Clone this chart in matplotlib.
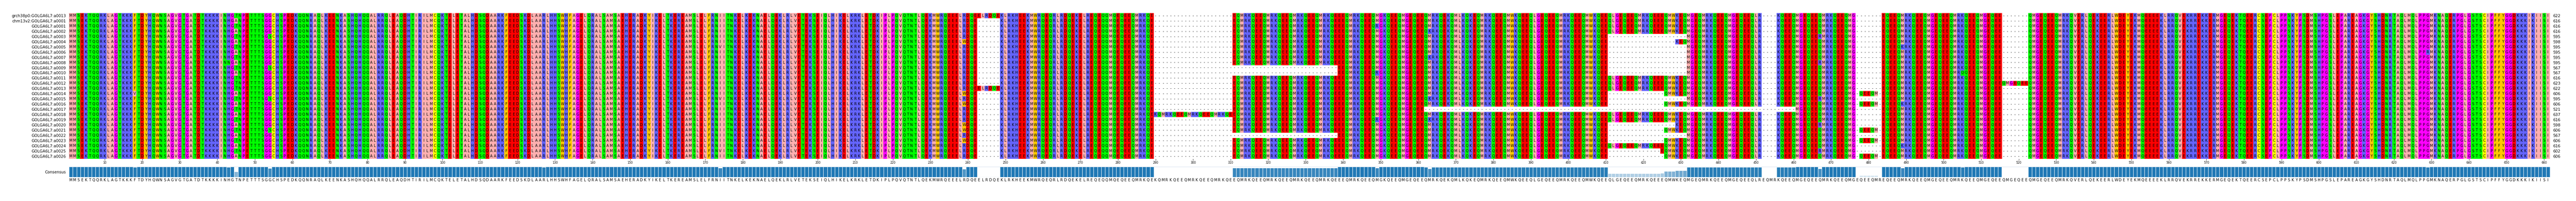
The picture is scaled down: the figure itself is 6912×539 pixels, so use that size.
import numpy as np
import matplotlib
matplotlib.use("Agg")
import matplotlib.pyplot as plt
from matplotlib.colors import to_rgb

# ---------------- data ----------------
row_names = ["grch38p0:GOLGA6L7:a0013", "chm13v2:GOLGA6L7:a0001"] + \
            ["GOLGA6L7:a%04d" % i for i in range(1, 27)]
row_lengths = [622, 616, 616, 616, 595, 598, 595, 595, 595, 595, 567, 567, 616, 623,
               622, 606, 595, 606, 521, 637, 616, 598, 606, 567, 606, 616, 602, 606]

consensus_segments = [
    "MMSEKTQQRKLAGTKKKFTDYHQWNSAGVGTGATDTKKKKINHGTNPETTTSGGCHSPEDKQQNRAQLKEENKASHQHQQAL",
    "RRQLEAQDHTIRILMCQKTELETALHDSQDAARKFEEDSKDLAARLHHSWHFAGELQRALSAMSAEHERADKYIKELTKERE",
    "AMSLELFRNIITNKELKEKNAELQEKLRLVETEKSEIQLHIKELKRKLETDKIPLPQVQTNTLQEKMWRQEEELRDQE",
    "ELRDQE",
    "KLRKHEEKMWRQEQRLRDQEKELREQEQQMQEQEEQMRKQE",
    "KQMRKQEEQMRKQEEQMRKQE",
    "EQMRKQEEQMRKQEEQ",
    "MRKQEEQMRKQEEEQMRKQEEQMGKQEEQMGEQEEQMRKQEKQMLKQKEQMRKQEEQMWKQEEQLGEQ",
    "EEQMRKQEEQMWKQEEQLGEQEEQMRKQEEEQMWK",
    "E",
    "QMGEQMRKQEEQMGEQEEQLREQMRKQEE",
    "QMGEQEEQMRKQEEQMGEQEEQMREQEEQMRKQEEQMGEQEEQMRKQEEQMGEQEEQMGEQEEQMGE",
    "QEEQMRKQVERLQEKEERLWDEYEKMQEEEEKLRRQVEKRREKKERMGEQEKTQEERCSEPCLPPSK",
    "YPSDMSHPGSLEPAREAGKGYSHDNRTAQLMQLPPGMKNAQERPGLGSTSCIPFFYGGDKKKIKIISI",
]

# gap ranges (inclusive, 1-based columns) per row
common_gaps = [(243, 248), (290, 310), (452, 455), (477, 483), (516, 522)]
row_extra_residues = {0: [(243, 248)], 14: [(243, 248)], 19: [(290, 310)],
                      13: [(516, 522)],
                      15: [(478, 482)], 17: [(478, 482)], 22: [(478, 482)],
                      24: [(478, 482)], 27: [(478, 482)]}
row_extra_gaps = {5: [(411, 428)], 21: [(411, 428)],
                  4: [(411, 431)], 6: [(411, 431)], 7: [(411, 431)], 8: [(411, 431)],
                  9: [(411, 431)], 16: [(411, 431)],
                  15: [(411, 425)], 17: [(411, 425)], 22: [(411, 425)],
                  24: [(411, 425)], 27: [(411, 425)],
                  10: [(311, 338), (411, 431)], 11: [(311, 338), (411, 431)],
                  23: [(311, 338), (411, 431)],
                  26: [(411, 424)], 18: [(362, 460)]}
# substitutions: (column, residue, rows)
substitutions = [(18, "V", [15]), (239, "W", [5, 15, 17, 21, 22, 24]),
                 (43, "N", [9]), (44, "G", [9, 26]),
                 (45, "A", [1, 3, 5, 7, 9, 11, 15, 17, 19, 21, 23, 25, 27]),
                 (54, "S", [4, 10, 16, 22]), (127, "K", [12]), (174, "V", [6, 16, 26]),
                 (349, "R", [2, 11, 20]), (363, "K", [3, 8, 16, 20]), (467, "R", [4, 9, 16, 21, 26]),
                 (489, "K", [6, 17, 25]), (490, "R", [8, 24]), (505, "Q", [11]), (629, "R", [7])]

zappo = {"ILVAM": "#ffafaf", "FWY": "#ffc800", "KRH": "#6464ff", "DE": "#ff0000",
         "STNQ": "#00ff00", "PG": "#ff00ff", "C": "#ffff00"}

# ---------------- build alignment ----------------
consensus = "".join(consensus_segments)
ncol = len(consensus)
nrow = len(row_names)
aln = np.array([list(consensus) for _ in range(nrow)])
for r in range(nrow):
    gaps = set()
    for a, b in common_gaps:
        gaps.update(range(a, b + 1))
    for a, b in row_extra_residues.get(r, []):
        gaps.difference_update(range(a, b + 1))
    for a, b in row_extra_gaps.get(r, []):
        gaps.update(range(a, b + 1))
    for c in gaps:
        aln[r, c - 1] = "-"
for col, res, rows in substitutions:
    for r in rows:
        if aln[r, col - 1] != "-":
            aln[r, col - 1] = res
print(ncol, [int((aln[r] != "-").sum()) for r in range(nrow)])

color_of = {}
for k, v in zappo.items():
    for ch in k:
        color_of[ch] = to_rgb(v)
img = np.ones((nrow, ncol, 3))
for r in range(nrow):
    for c in range(ncol):
        if aln[r, c] in color_of:
            img[r, c] = color_of[aln[r, c]]

ident = (aln == np.array(list(consensus))[None, :]).mean(axis=0)

# ---------------- draw ----------------
W, H = 6912, 539
fig = plt.figure(figsize=(W / 100, H / 100), dpi=100)
x0, x1 = 185.4 / W, 6841.6 / W
ax = fig.add_axes([x0, 1 - 425.7 / H, x1 - x0, (425.7 - 35) / H])
ax.imshow(img, aspect="auto", interpolation="nearest",
          extent=(0.5, ncol + 0.5, nrow + 0.5, 0.5))
for r in range(nrow):
    for c in range(ncol):
        ax.text(c + 1, r + 1, aln[r, c], ha="center", va="center", fontsize=7, color="black")
ax.set_xlim(0.5, ncol + 0.5)
ax.set_ylim(nrow + 0.5, 0.5)
for s in ax.spines.values():
    s.set_visible(False)
ax.set_yticks(range(1, nrow + 1))
ax.set_yticklabels(row_names, fontsize=7.5)
ax.tick_params(axis="y", length=0, pad=6)
ax.set_xticks(range(10, ncol + 1, 10))
ax.tick_params(axis="x", labelsize=5.5, length=3, pad=1.5, width=0.6)
axr = ax.twinx()
axr.set_ylim(nrow + 0.5, 0.5)
axr.set_yticks(range(1, nrow + 1))
axr.set_yticklabels([str(v) for v in row_lengths], fontsize=7.5)
axr.tick_params(axis="y", length=0, pad=6)
for s in axr.spines.values():
    s.set_visible(False)

bx = fig.add_axes([x0, 1 - 475 / H, x1 - x0, 28 / H])
cols = np.arange(1, ncol + 1)
bx.bar(cols, ident, width=1.0, color=[(0.12, 0.47, 0.71, max(a, 0.05)) for a in ident],
       edgecolor="white", linewidth=0.8)
bx.axhline(1.0, color="#d6e4f0", linewidth=0.8)
bx.set_xlim(0.5, ncol + 0.5)
bx.set_ylim(0, 1)
for s in bx.spines.values():
    s.set_visible(False)
bx.set_yticks([0.5])
bx.set_yticklabels(["Consensus"], fontsize=7.5)
bx.tick_params(axis="y", length=0, pad=6)
bx.set_xticks(cols)
bx.set_xticklabels(list(consensus), fontsize=7)
bx.tick_params(axis="x", length=0, pad=2)

fig.savefig("out.png", dpi=100)
